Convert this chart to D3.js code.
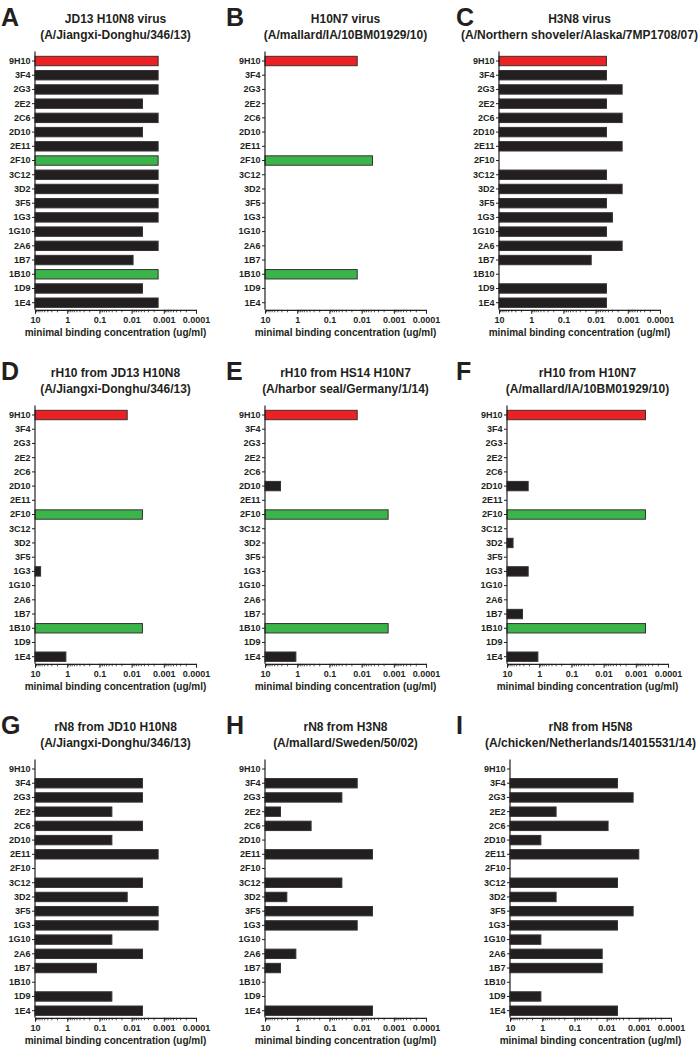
<!DOCTYPE html>
<html>
<head>
<meta charset="utf-8">
<script src="https://cdn.jsdelivr.net/npm/d3@7"></script>
<style>
  body { margin: 0; background: #fff; }
  svg { display: block; }
  text { font-family: Arial, "Liberation Sans", Helvetica, sans-serif; font-weight: 700; fill: #231f20; }
</style>
</head>
<body>
<svg id="chart" width="700" height="1048"></svg>
<script>
// ---------------- DATA ----------------
const antibodies = ["9H10","3F4","2G3","2E2","2C6","2D10","2E11","2F10","3C12","3D2","3F5","1G3","1G10","2A6","1B7","1B10","1D9","1E4"];
const tickValuesX = [10, 1, 0.1, 0.01, 0.001, 0.0001];
const tickLabelsX = ["10", "1", "0.1", "0.01", "0.001", "0.0001"];
const axisTitle = "minimal binding concentration (ug/ml)";

const panelLetters = ["A","B","C","D","E","F","G","H","I"];
const panelTitles = [
  ["JD13 H10N8 virus", "(A/Jiangxi-Donghu/346/13)"],
  ["H10N7 virus", "(A/mallard/IA/10BM01929/10)"],
  ["H3N8 virus", "(A/Northern shoveler/Alaska/7MP1708/07)"],
  ["rH10 from JD13 H10N8", "(A/Jiangxi-Donghu/346/13)"],
  ["rH10 from HS14 H10N7", "(A/harbor seal/Germany/1/14)"],
  ["rH10 from H10N7", "(A/mallard/IA/10BM01929/10)"],
  ["rN8 from JD10 H10N8", "(A/Jiangxi-Donghu/346/13)"],
  ["rN8 from H3N8", "(A/mallard/Sweden/50/02)"],
  ["rN8 from H5N8", "(A/chicken/Netherlands/14015531/14)"]
];

// minimal binding concentration (ug/ml); null = no binding
const valuesA = [0.0015,0.0015,0.0015,0.0046,0.0015,0.0046,0.0015,0.0015,0.0015,0.0015,0.0015,0.0015,0.0046,0.0015,0.009,0.0015,0.0046,0.0015];
const valuesB = [0.0137,null,null,null,null,null,null,0.0046,null,null,null,null,null,null,null,0.0137,null,null];
const valuesC = [0.0046,0.0046,0.0015,0.0046,0.0015,0.0046,0.0015,null,0.0046,0.0015,0.0046,0.003,0.0046,0.0015,0.0137,null,0.0046,0.0046];
const valuesD = [0.0137,null,null,null,null,null,null,0.0046,null,null,null,6.7,null,null,null,0.0046,null,1.1];
const valuesE = [0.0137,null,null,null,null,3.3,null,0.0015,null,null,null,null,null,null,null,0.0015,null,1.1];
const valuesF = [0.0005,null,null,null,null,2.2,null,0.0005,null,6.5,null,2.2,null,null,3.3,0.0005,null,1.1];
const valuesG = [null,0.0046,0.0046,0.041,0.0046,0.041,0.0015,null,0.0046,0.0137,0.0015,0.0015,0.041,0.0046,0.123,null,0.041,0.0046];
const valuesH = [null,0.0137,0.041,3.3,0.37,null,0.0046,null,0.041,2.1,0.0046,0.0137,null,1.1,3.3,null,null,0.0046];
const valuesI = [null,0.0046,0.0015,0.37,0.009,1.1,0.001,null,0.0046,0.37,0.0015,0.0046,1.1,0.0137,0.0137,null,1.1,0.0046];
const allValues = [valuesA, valuesB, valuesC, valuesD, valuesE, valuesF, valuesG, valuesH, valuesI];

const highlightRed = ["9H10"];
const highlightGreen = ["2F10", "1B10"];

// ---------------- LAYOUT ----------------
const axisLefts = [35, 265, 499, 35, 265, 507, 35, 265, 510];
const letterX = [1, 226, 456];
const axisWidth = 161;
const rowOffset = 354;
const FONT = "Arial, 'Liberation Sans', Helvetica, sans-serif";

const svg = d3.select("#chart");

allValues.forEach((vals, i) => {
  const col = i % 3, row = Math.floor(i / 3);
  const oy = row * rowOffset;
  const x0 = axisLefts[i];
  const g = svg.append("g");

  const x = d3.scaleLog().domain([10, 0.0001]).range([x0, x0 + axisWidth]);
  const y = d3.scaleBand().domain(antibodies).range([oy + 53.9, oy + 309.8]).paddingInner(0.34).paddingOuter(0.17);

  // letter
  g.append("text").attr("x", letterX[col]).attr("y", oy + 25.5)
    .style("font-family", FONT)
    .style("font-weight", "700")
    .style("font-size", "25px").text(panelLetters[i]);

  // titles
  const cx = x0 + axisWidth / 2;
  g.append("text").attr("x", cx).attr("y", oy + 23).attr("text-anchor", "middle")
    .style("font-size", "12px").text(panelTitles[i][0]);
  g.append("text").attr("x", cx).attr("y", oy + 38.5).attr("text-anchor", "middle")
    .style("font-size", "12px").text(panelTitles[i][1]);

  // bars
  const data = antibodies.map((a, k) => ({ name: a, v: vals[k] })).filter(d => d.v !== null);
  g.selectAll("rect.bar").data(data).enter().append("rect")
    .attr("class", "bar")
    .attr("x", x(10))
    .attr("y", d => y(d.name))
    .attr("width", d => x(d.v) - x(10))
    .attr("height", y.bandwidth())
    .attr("fill", d => highlightRed.includes(d.name) ? "#ed2024" : highlightGreen.includes(d.name) ? "#3bb54a" : "#231f20")
    .attr("stroke", "#333")
    .attr("stroke-width", 1);

  // y axis
  const yAxis = g.append("g").attr("transform", `translate(${x0},0)`)
    .call(d3.axisLeft(y).tickSize(3).tickSizeOuter(0));
  yAxis.attr("font-family", null);
  yAxis.select(".domain").attr("stroke", "#231f20").attr("stroke-width", 1.2)
    .attr("d", `M0,${oy + 51.5}V${oy + 309.8}`);
  yAxis.selectAll(".tick line").attr("stroke", "#231f20");
  yAxis.selectAll(".tick text").attr("x", -4.5).style("font-size", "9px")
    .style("font-family", FONT).style("font-weight", "700").attr("fill", "#231f20");

  // x axis
  const axisY = oy + 309.8;
  const xAxis = g.append("g").attr("transform", `translate(0,${axisY})`)
    .call(d3.axisBottom(x).tickValues(tickValuesX).tickSize(4).tickSizeOuter(0)
      .tickFormat((d, k) => tickLabelsX[k]));
  xAxis.attr("font-family", null);
  xAxis.select(".domain").attr("stroke", "#231f20").attr("stroke-width", 1.2);
  xAxis.selectAll(".tick line").attr("stroke", "#231f20").attr("stroke-width", 1);
  xAxis.selectAll(".tick text").attr("y", 7).style("font-size", "9px")
    .style("font-family", FONT).style("font-weight", "700").attr("fill", "#231f20");

  // minor ticks
  const minors = x.ticks().filter(t => !tickValuesX.some(m => Math.abs(m - t) / m < 1e-6));
  xAxis.selectAll("line.minor").data(minors).enter().append("line")
    .attr("class", "minor")
    .attr("x1", d => x(d)).attr("x2", d => x(d))
    .attr("y1", 0).attr("y2", 2.5)
    .attr("stroke", "#231f20").attr("stroke-width", 0.8);

  // axis title
  g.append("text").attr("x", cx).attr("y", oy + 335.5).attr("text-anchor", "middle")
    .style("font-size", "10px").text(axisTitle);
});
</script>
</body>
</html>
